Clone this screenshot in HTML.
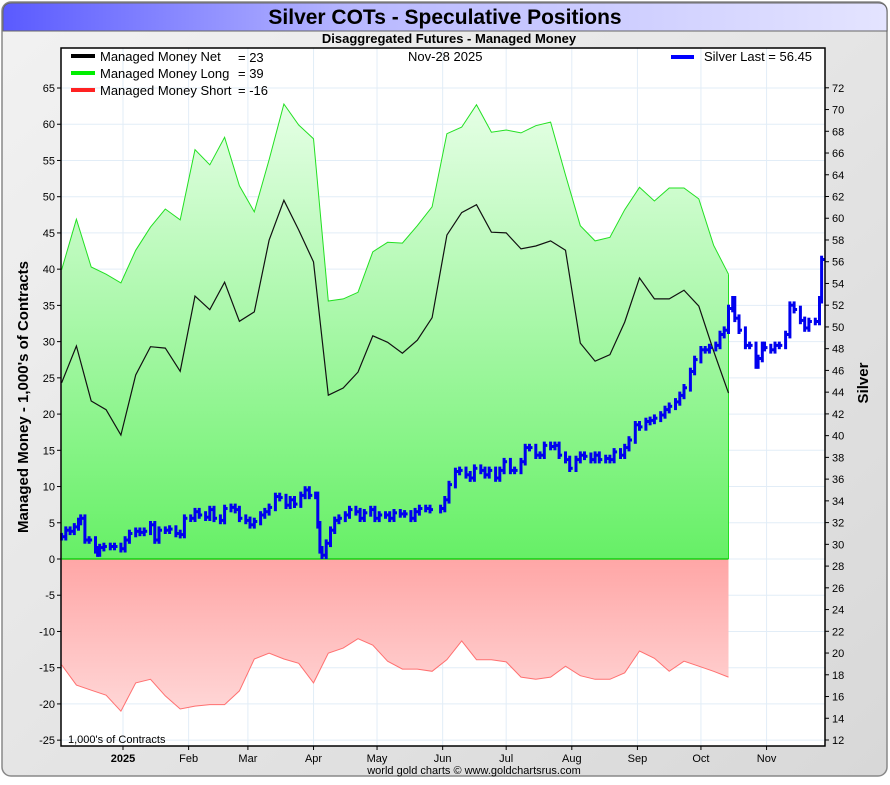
<!DOCTYPE html>
<html><head><meta charset="utf-8"><style>
body{margin:0;width:890px;height:780px;overflow:hidden;background:#fff;font-family:"Liberation Sans",sans-serif}
</style></head><body>
<svg id="chart" width="890" height="780" xmlns="http://www.w3.org/2000/svg" font-family="Liberation Sans, sans-serif">
<defs>
<linearGradient id="bg" x1="0" y1="0" x2="1" y2="1"><stop offset="0" stop-color="#f2f2f2"/><stop offset="1" stop-color="#d8d8d8"/></linearGradient>
<linearGradient id="tb" x1="0" y1="0" x2="1" y2="0"><stop offset="0" stop-color="#5a5aff"/><stop offset="0.4" stop-color="#b8b8ff"/><stop offset="1" stop-color="#e4e4ff"/></linearGradient>
<linearGradient id="gl" gradientUnits="userSpaceOnUse" x1="0" y1="88" x2="0" y2="559"><stop offset="0" stop-color="#eaffea"/><stop offset="1" stop-color="#66f066"/></linearGradient>
<linearGradient id="gs" gradientUnits="userSpaceOnUse" x1="0" y1="559" x2="0" y2="740"><stop offset="0" stop-color="#ffa6a6"/><stop offset="1" stop-color="#ffe0e0"/></linearGradient>
</defs>
<rect x="2" y="2" width="885" height="774" rx="9" fill="url(#bg)" stroke="#888" stroke-width="1.5"/>
<path d="M3 31 V12 Q3 3 12 3 H878 Q887 3 887 12 V31 Z" fill="url(#tb)" stroke="#666" stroke-width="1"/>
<text x="445" y="24" text-anchor="middle" font-size="21" font-weight="bold">Silver COTs - Speculative Positions</text>
<text x="449" y="43" text-anchor="middle" font-size="13" font-weight="bold">Disaggregated Futures - Managed Money</text>
<rect x="61" y="48" width="764" height="698" fill="#fff"/>
<g id="grid"></g>
<g id="fills"></g>
<g id="lines"></g>
<g id="silver"></g>
<rect x="61" y="48" width="764" height="698" fill="none" stroke="#000" stroke-width="1.5"/>
<g id="axes"></g>
<g font-size="13">
<rect x="71" y="54" width="24" height="4" fill="#000"/><text x="100" y="61">Managed Money Net</text><text x="238" y="62">= 23</text>
<rect x="71" y="71" width="24" height="4" fill="#00ee00"/><text x="100" y="78">Managed Money Long</text><text x="238" y="78">= 39</text>
<rect x="71" y="88" width="24" height="4" fill="#ff2222"/><text x="100" y="95">Managed Money Short</text><text x="238" y="95">= -16</text>
<text x="408" y="61">Nov-28  2025</text>
<rect x="671" y="55" width="23" height="4" fill="#0000ff"/><text x="704" y="61">Silver Last = 56.45</text>
</g>
<text x="68" y="743" font-size="11">1,000's of Contracts</text>
<text transform="translate(28,397) rotate(-90)" text-anchor="middle" font-size="15" font-weight="bold">Managed Money - 1,000's of Contracts</text>
<text transform="translate(868,383) rotate(-90)" text-anchor="middle" font-size="15" font-weight="bold">Silver</text>
<text x="474" y="774" text-anchor="middle" font-size="11">world gold charts © www.goldchartsrus.com</text>
</svg>
<script>
const NS='http://www.w3.org/2000/svg';
// days since Dec 1 2024
const cotDays=[2,9,16,23,30,37,44,51,58,65,72,79,86,93,100,107,114,121,128,135,142,149,156,163,170,177,184,191,198,205,212,219,226,233,240,247,254,261,268,275,282,289,296,303,310,317];
const longVals=[39.9,46.9,40.3,39.3,38.1,42.6,45.8,48.3,46.8,56.5,54.4,58.2,51.5,47.9,55.1,62.8,59.9,58.0,35.6,35.9,36.8,42.4,43.7,43.6,46.0,48.6,58.7,59.6,62.7,58.9,59.2,58.8,59.8,60.3,53.0,46.0,43.9,44.4,48.2,51.3,49.4,51.2,51.2,49.7,43.3,39.3];
const netVals=[24.3,29.4,21.8,20.6,17.1,25.4,29.3,29.1,25.9,36.3,34.4,38.2,32.8,34.1,44.0,49.5,45.4,41.0,22.6,23.6,25.8,30.8,29.9,28.4,30.2,33.3,44.7,47.8,48.9,45.1,45.0,42.8,43.2,43.9,42.6,29.8,27.3,28.2,32.7,38.8,35.9,35.9,37.1,34.9,28.7,22.9];
const shortVals=[-14.6,-17.4,-18.1,-18.8,-21.0,-17.1,-16.6,-18.9,-20.7,-20.3,-20.1,-20.1,-18.2,-13.8,-13.0,-13.8,-14.4,-17.1,-13.0,-12.3,-11.0,-11.9,-14.1,-15.2,-15.2,-15.5,-13.9,-11.3,-13.9,-13.9,-14.2,-16.3,-16.6,-16.3,-14.8,-16.1,-16.6,-16.6,-15.7,-12.7,-13.7,-15.5,-14.1,-14.8,-15.5,-16.3];
const silverDays=[2,4,6,8,10,11,13,15,18,19,20,22,25,27,30,32,34,37,39,41,44,46,48,51,53,56,58,60,63,65,67,70,72,74,77,79,82,84,86,89,91,93,96,98,100,103,105,108,110,112,115,117,119,122,123,124,125,127,129,131,133,136,138,141,143,145,148,150,152,155,157,159,162,164,167,169,171,174,176,181,183,185,188,190,193,195,197,200,202,204,207,209,211,214,216,219,221,223,226,228,230,233,235,237,240,242,245,247,249,252,254,256,259,261,263,266,268,270,273,275,278,280,282,285,287,289,292,294,296,299,301,304,306,308,311,313,315,317,319,320,322,325,327,330,331,333,334,337,339,341,344,346,348,351,353,355,358,360,361];
const silverVals=[30.7,31.3,31.2,31.6,32.1,32.4,30.4,30.4,29.5,29.2,29.7,29.8,29.8,29.8,29.6,30.4,31.0,31.2,31.1,31.2,31.8,30.4,31.3,31.3,31.4,31.0,30.9,32.4,32.4,33.0,32.7,32.5,33.2,32.4,32.2,33.3,33.4,33.2,32.4,32.2,31.8,32.1,32.7,33.0,33.4,34.4,34.3,33.6,34.1,33.7,34.5,35.0,34.5,34.5,31.8,29.5,29.0,30.1,31.3,32.2,32.4,32.7,33.2,33.0,32.4,32.9,33.2,32.4,32.7,32.7,32.4,32.9,32.8,32.8,32.4,33.0,33.3,33.3,33.2,33.3,34.1,35.5,36.7,36.8,36.4,36.1,37.0,36.8,36.4,36.8,36.1,36.8,37.6,36.8,36.8,37.6,38.9,38.9,38.2,38.2,39.1,39.0,39.1,38.2,37.8,37.0,37.8,38.2,38.1,37.8,38.2,37.8,37.9,37.8,38.5,38.2,38.9,39.6,41.0,40.8,41.3,41.4,41.6,41.9,42.4,42.7,43.1,43.7,44.4,45.9,47.0,47.9,47.9,48.1,48.3,49.3,49.7,51.7,52.5,50.8,49.7,48.3,48.3,46.5,47.1,48.3,48.1,47.9,48.3,48.3,49.3,52.0,51.6,50.6,49.9,50.5,50.5,52.5,56.2];
const leftTicks=[65,60,55,50,45,40,35,30,25,20,15,10,5,0,-5,-10,-15,-20,-25];
const rightTicks=[72,70,68,66,64,62,60,58,56,54,52,50,48,46,44,42,40,38,36,34,32,30,28,26,24,22,20,18,16,14,12];
const monthLabels=['2025','Feb','Mar','Apr','May','Jun','Jul','Aug','Sep','Oct','Nov'];
const monthDays=[31,62,90,121,151,182,212,243,274,304,335];

const xS=d=>123+(d-31)*2.117;
const yL=v=>559-v*7.246;
const yR=p=>740-(p-12)*10.87;
function mk(tag,attrs,parent){const e=document.createElementNS(NS,tag);for(const k in attrs)e.setAttribute(k,attrs[k]);parent.appendChild(e);return e;}
const grid=document.getElementById('grid'),fills=document.getElementById('fills'),lines=document.getElementById('lines'),sil=document.getElementById('silver'),axes=document.getElementById('axes');
leftTicks.forEach(v=>{const y=yL(v);
 const g=mk('line',{x1:61,x2:825,y1:y,y2:y,stroke:'#e2edf7','stroke-width':1},grid);
 
 mk('line',{x1:57,x2:61,y1:y,y2:y,stroke:'#000'},axes);
 const t=mk('text',{x:55,y:y+4,'text-anchor':'end','font-size':11},axes);t.textContent=v;
 });
rightTicks.forEach(p=>{const y=yR(p);
 mk('line',{x1:825,x2:829,y1:y,y2:y,stroke:'#000'},axes);
 const t=mk('text',{x:832,y:y+4,'font-size':11},axes);t.textContent=p;
 });
monthLabels.forEach((m,i)=>{const x=xS(monthDays[i]);
 const g=mk('line',{x1:x,x2:x,y1:48,y2:746,stroke:'#e2edf7'},grid);
 
 mk('line',{x1:x,x2:x,y1:746,y2:750,stroke:'#000'},axes);
 const t=mk('text',{x:x,y:762,'text-anchor':'middle','font-size':11,'font-weight':i===0?'bold':'normal'},axes);t.textContent=m;
 });
const pts=(vals)=>vals.map((v,i)=>xS(cotDays[i]).toFixed(1)+','+yL(v).toFixed(1));
const x0=xS(cotDays[0]).toFixed(1),x1=xS(cotDays[cotDays.length-1]).toFixed(1),y0=yL(0);
const lf=mk('polygon',{points:x0+','+y0+' '+pts(longVals).join(' ')+' '+x1+','+y0,fill:'url(#gl)'},fills);

const sf=mk('polygon',{points:x0+','+y0+' '+pts(shortVals).join(' ')+' '+x1+','+y0,fill:'url(#gs)'},fills);

const ll=mk('polyline',{points:pts(longVals).join(' '),fill:'none',stroke:'#22e022','stroke-width':1},lines);

mk('polyline',{points:x1+','+pts(longVals).slice(-1)[0].split(',')[1]+' '+x1+','+y0,fill:'none',stroke:'#22e022','stroke-width':1},lines);
const sl=mk('polyline',{points:pts(shortVals).join(' '),fill:'none',stroke:'#ff7070','stroke-width':1},lines);

const zl=mk('line',{x1:x0,x2:x1,y1:y0,y2:y0,stroke:'#00cc00','stroke-width':1.2},lines);

const nl=mk('polyline',{points:pts(netVals).join(' '),fill:'none',stroke:'#111','stroke-width':1.2},lines);

silverVals.forEach((p,i)=>{const prev=i?silverVals[i-1]:p;const x=xS(silverDays[i]);
 const top=yR(Math.max(p,prev)+0.35),bot=yR(Math.min(p,prev)-0.35);
 const r=mk('rect',{x:(x-1.5).toFixed(1),y:top.toFixed(1),width:3,height:(bot-top).toFixed(1),fill:'#0000ee'},sil);
 
 const h=mk('rect',{x:(x+1).toFixed(1),y:(yR(p)-1.5).toFixed(1),width:2,height:3,fill:'#0000ee'},sil);
 });
</script>
</body></html>
